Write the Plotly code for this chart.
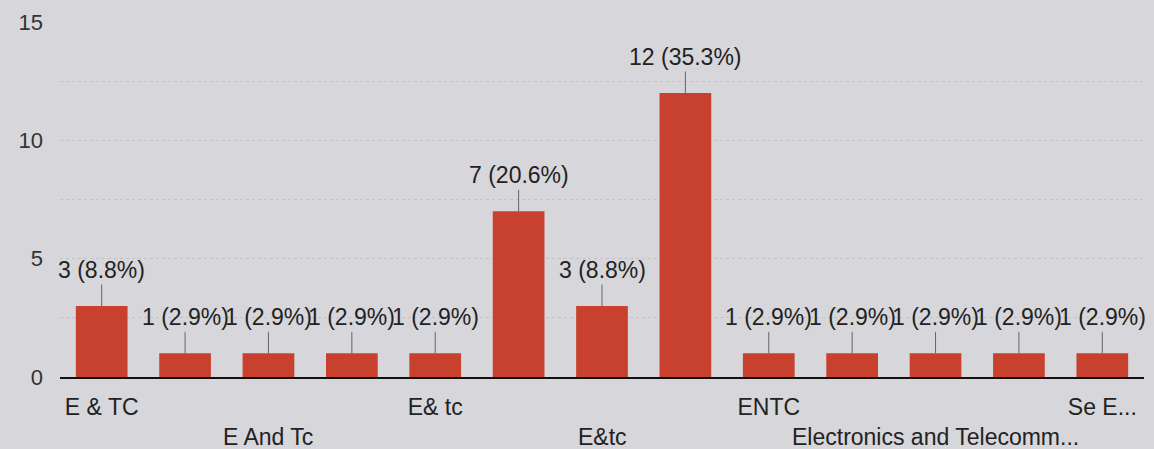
import plotly.graph_objects as go

# answers (only every other label is drawn in the original chart)
categories = ["E & TC", "E & Tc", "E And Tc", "E and TC", "E& tc", "E&TC", "E&tc",
              "EnTC", "ENTC", "Electronics & Telecommunication",
              "Electronics and Telecomm...", "Electronics and TC", "Se E..."]
counts = [3, 1, 1, 1, 1, 7, 3, 12, 1, 1, 1, 1, 1]
shown_row1 = ["E & TC", "E& tc", "ENTC", "Se E..."]
shown_row2 = ["E And Tc", "E&tc", "Electronics and Telecomm..."]
y_ticks = [0, 5, 10, 15]

total = sum(counts)
bar_color = "#c8402e"
bg = "#d6d6db"
grid = "#c2c2c9"
font_family = "Liberation Sans, Arial, sans-serif"
txt = dict(size=23, color="#222", family=font_family)

fig = go.Figure(go.Bar(x=categories, y=counts, marker_color=bar_color,
                       marker_line_width=0, width=0.62))

# value labels with little leader lines
for c, v in zip(categories, counts):
    fig.add_annotation(x=c, y=v, text=f"{v} ({v / total * 100:.1f}%)",
                       showarrow=True, arrowhead=0, arrowwidth=1, arrowcolor="#666",
                       ax=0, ay=-36, font=txt)

# second row of category labels
for c in shown_row2:
    fig.add_annotation(x=c, y=0, yref="y", text=c, showarrow=False,
                       yanchor="top", yshift=-45, font=txt)

fig.update_xaxes(tickmode="array", tickvals=shown_row1, ticktext=shown_row1,
                 range=[-0.5, len(categories) - 0.5],
                 showline=True, linecolor="#111", linewidth=2,
                 showgrid=False, ticks="", ticklabelstandoff=8, tickfont=txt)
fig.update_yaxes(range=[0, 15], tickvals=y_ticks, zeroline=False,
                 showgrid=True, gridcolor=grid, griddash="dot",
                 minor=dict(dtick=2.5, showgrid=True, gridcolor=grid, griddash="dot"),
                 ticklabelstandoff=16,
                 tickfont=dict(size=22, color="#333", family=font_family))
fig.update_layout(width=1154, height=449, paper_bgcolor=bg, plot_bgcolor=bg,
                  margin=dict(l=60, r=10, t=20, b=72), showlegend=False,
                  font=dict(family=font_family))

fig.write_html("out.html", config={"displayModeBar": False},
               post_script="document.body.style.margin='0';")
